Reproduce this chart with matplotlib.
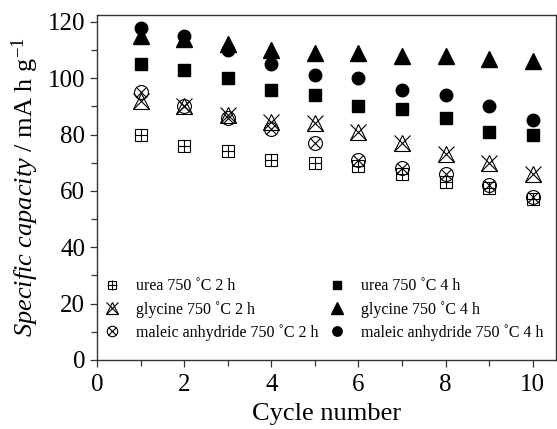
import matplotlib
matplotlib.use("Agg")
import matplotlib.pyplot as plt
from matplotlib.ticker import MultipleLocator

plt.rcParams['font.family'] = ['Liberation Serif', 'DejaVu Serif']
plt.rcParams['mathtext.fontset'] = 'custom'
plt.rcParams['mathtext.rm'] = 'Liberation Serif'
plt.rcParams['mathtext.it'] = 'Liberation Serif:italic'

# data
cycles = [1, 2, 3, 4, 5, 6, 7, 8, 9, 10]
urea_2h = [80, 76, 74, 71, 70, 69, 66, 63, 61, 57]
urea_4h = [105, 103, 100, 96, 94, 90, 89, 86, 81, 80]
glycine_2h = [92, 90, 87, 84.5, 84, 81, 77, 73, 70, 66]
glycine_4h = [115, 114, 112, 110, 109, 109, 108, 108, 107, 106]
maleic_2h = [95, 90, 86, 82, 77, 71, 68, 66, 62, 58]
maleic_4h = [118, 115, 110, 105, 101, 100, 96, 94, 90, 85]

labels = ["urea 750 \u02daC 2 h", "urea 750 \u02daC 4 h",
          "glycine 750 \u02daC 2 h", "glycine 750 \u02daC 4 h",
          "maleic anhydride 750 \u02daC 2 h", "maleic anhydride 750 \u02daC 4 h"]

fig = plt.figure(figsize=(5.57, 4.29), dpi=100)
ax = fig.add_axes([0.174, 0.161, 0.824, 0.805])

lw = 0.8
# urea 2h : boxplus
a1 = ax.plot(cycles, urea_2h, ls='none', marker='s', ms=8.5, mfc='none', mec='k', mew=lw)[0]
a2 = ax.plot(cycles, urea_2h, ls='none', marker='+', ms=9, mec='k', mew=lw)[0]
# glycine 2h : triangle with X
b1 = ax.plot(cycles, glycine_2h, ls='none', marker='^', ms=11, mfc='none', mec='k', mew=lw)[0]
b2 = ax.plot(cycles, glycine_2h, ls='none', marker='x', ms=11, mec='k', mew=lw)[0]
# maleic 2h : circle with X
c1 = ax.plot(cycles, maleic_2h, ls='none', marker='o', ms=10, mfc='none', mec='k', mew=lw)[0]
c2 = ax.plot(cycles, maleic_2h, ls='none', marker='x', ms=7, mec='k', mew=lw)[0]

d = ax.plot(cycles, urea_4h, ls='none', marker='s', ms=8.5, color='k')[0]
e = ax.plot(cycles, glycine_4h, ls='none', marker='^', ms=11, color='k')[0]
f = ax.plot(cycles, maleic_4h, ls='none', marker='o', ms=9, color='k')[0]

# two legend columns placed separately
leg_kw = dict(loc='lower left', frameon=False, fontsize=11.5, markerscale=0.75,
              handlelength=1.0, handletextpad=1.0, labelspacing=0.4,
              borderpad=0, borderaxespad=0)
leg1 = ax.legend([(a1, a2), (b1, b2), (c1, c2)], [labels[0], labels[2], labels[4]],
                 bbox_to_anchor=(0.015, 0.055), **leg_kw)
ax.add_artist(leg1)
ax.legend([d, e, f], [labels[1], labels[3], labels[5]],
          bbox_to_anchor=(0.505, 0.055), **leg_kw)

ax.set_xlim(0, 10.53)
ax.set_ylim(0, 122.6)
ax.xaxis.set_major_locator(MultipleLocator(2))
ax.xaxis.set_minor_locator(MultipleLocator(1))
ax.yaxis.set_major_locator(MultipleLocator(20))
ax.yaxis.set_minor_locator(MultipleLocator(10))
ax.tick_params(which='both', direction='out', top=False, right=False, labelsize=18, color='#333333')
ax.tick_params(which='major', length=5, width=0.9)
ax.tick_params(which='minor', length=4, width=0.9)
ax.tick_params(axis='x', pad=5)
for s in ax.spines.values():
    s.set_color('#333333')
    s.set_linewidth(1.0)

ax.set_xlabel("Cycle number", fontsize=19, labelpad=5)
ax.set_ylabel(r"$\it{Specific\ capacity}$ / mA h g$^{-1}$", fontsize=19, labelpad=5)

fig.savefig("out.png", dpi=100)
